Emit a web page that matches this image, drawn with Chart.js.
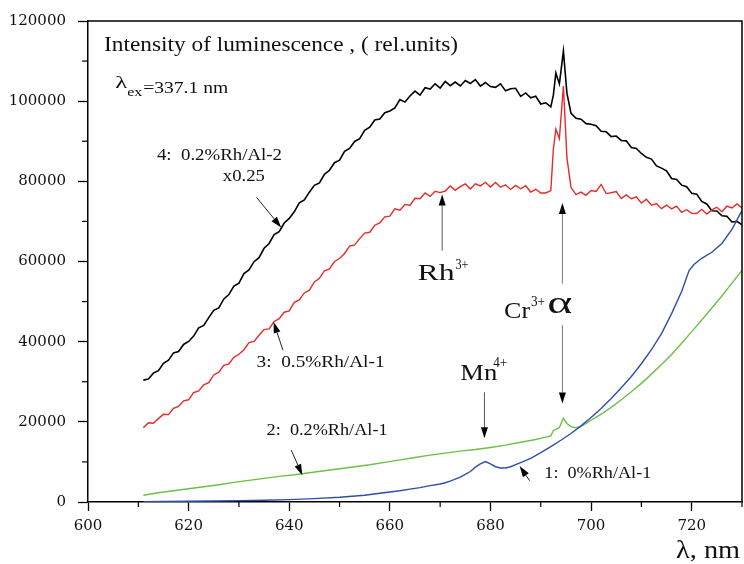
<!DOCTYPE html>
<html><head><meta charset="utf-8">
<script src="https://cdn.jsdelivr.net/npm/chart.js@4/dist/chart.umd.min.js"></script>
<style>html,body{margin:0;padding:0;background:#fff}canvas{display:block}</style>
</head><body>
<canvas id="c" width="744" height="564"></canvas>
<script>
// ---------- data ----------
const xTicks = [600, 620, 640, 660, 680, 700, 720];
const yTicks = [0, 20000, 40000, 60000, 80000, 100000, 120000];

// wavelengths (nm) for curves 3 and 4
const wlBR = [611,612,613,614,615,616,617,618,619,620,621,622,623,624,625,626,627,628,629,630,
631,632,633,634,635,636,637,638,639,640,641,642,643,644,645,646,647,648,649,650,
651,652,653,654,655,656,657,658,659,660,661,662,663,664,665,666,667,668,669,670,
671,672,673,674,675,676,677,678,679,680,681,682,683,684,685,686,687,688,689,690,
691,692,692.5,693,693.7,694.5,695.2,696,697,698,699,700,
701,702,703,704,705,706,707,708,709,710,711,712,713,714,715,716,717,718,719,720,
721,722,723,724,725,726,727,728,729,730];

// 4: 0.2%Rh/Al-2 x0.25 (black)
const s4 = [30400,30700,32150,32750,34600,35400,37200,37550,39300,40050,
41400,43450,44050,46000,47800,48400,50650,51750,53850,54600,
57000,57900,59950,60950,63300,64500,66700,67450,69600,70750,
72400,74650,75350,77300,79000,79600,81750,82750,84650,85300,
87500,88200,89950,90650,92700,93500,95300,95550,97100,97550,
98340,100410,99770,101280,102520,101500,103350,103030,104330,103280,
104920,103860,104770,103790,105140,104420,105400,103770,104660,103650,
103440,104310,102570,103080,103220,101200,102050,100830,101230,99280,
99600,98600,101500,107000,104300,112500,102000,97000,95750,95500,94400,94250,
93900,92500,92350,91150,91300,90200,90100,88450,88200,86950,
86000,85550,83850,83300,82600,80700,80450,79050,78650,77000,
76800,75000,74350,72650,72600,71400,71300,69850,70000,69150];

// 3: 0.5%Rh/Al-1 (red)
const s3 = [18500,19750,19650,20800,21900,21800,23350,23850,25250,25500,
27300,27700,29250,29750,31700,32400,34100,34450,36100,36850,
38000,39750,40050,41600,43000,43200,45050,45750,47350,47700,
49800,50400,52150,52850,54900,55800,57700,58150,60000,60750,
62000,63850,64150,65700,67100,67300,69050,69650,71150,71300,
73140,72820,74240,73980,75780,75640,77100,76240,77520,77200,
77580,78820,77740,78660,79340,78100,79400,78860,79760,78560,
79740,78520,79140,77980,78980,78140,78900,77340,78020,77100,
77100,77700,88000,93000,90600,103800,85900,78500,76700,77300,76500,77700,
77480,79220,76940,77160,77440,75700,76600,75660,76160,74560,
75540,74020,74440,73180,74080,73140,73800,72240,72920,72000,
71980,73020,71840,72860,73540,72400,73800,73360,74360,73360];

// 2: 0.2%Rh/Al-1 (green)
const wlG = [611,614,617,620,623,626,629,632,635,638,641,644,647,650,653,656,659,662,665,668,671,674,677,680,683,686,689,691,692,692.5,693,693.7,694.5,695.2,696,697,698,699,700,702,704,706,708,710,712,714,716,718,720,722,724,726,728,730];
const s2 = [1700,2300,2800,3300,3800,4300,4900,5400,5900,6400,6800,7300,7800,8300,8800,9300,9900,10500,11100,11700,12200,12700,13100,13600,14200,14900,15600,16200,16500,17800,18100,18600,20900,19600,18800,18500,18900,19600,20400,21900,23600,25500,27500,29600,31900,34300,36800,39600,42500,45400,48400,51400,54600,57800];

// 1: 0%Rh/Al-1 (blue)
const wlB = [611,615,620,625,630,635,640,645,650,655,658,660,662,664,666,668,670,671,672,673,674,675,676,677,678,679,680,681,682,683,684,685,686,688,690,692,694,696,698,700,702,704,706,708,710,712,714,716,718,719.5,720.5,722,724,726,728,730];
const s1 = [100,150,200,250,350,450,600,850,1200,1700,2200,2500,2800,3200,3600,4100,4500,4800,5200,5700,6200,6900,7600,8700,9500,10100,9500,8800,8500,8500,8800,9300,9800,10900,12300,13800,15400,17100,19000,21100,23300,25800,28500,31300,34500,38000,42000,47000,52500,57800,59300,60800,62300,64500,68000,72700];

const pts = (xs, ys) => xs.map((v, i) => ({x: v, y: ys[i]}));

// ---------- annotations (data coordinates) ----------
const SERIF = '"Liberation Serif", "Times New Roman", serif';
const texts = [
  {s: 'Intensity of luminescence , ( rel.units)', x: 603.2, y: 112500, size: 20, w: 354},
  {s: '4:  0.2%Rh/Al-2', x: 613.7, y: 85200, size: 16, w: 125},
  {s: 'x0.25', x: 626.8, y: 80200, size: 16, w: 42},
  {s: '3:  0.5%Rh/Al-1', x: 633.5, y: 33700, size: 16, w: 128},
  {s: '2:  0.2%Rh/Al-1', x: 635.5, y: 16700, size: 16, w: 121},
  {s: '1:  0%Rh/Al-1', x: 690.7, y: 5900, size: 16, w: 107}
];
const arrows = [
  [633.5, 76000, 638.4, 68500, '#222'],
  [638.75, 37850, 636.9, 44900, '#222'],
  [640.4, 12950, 642.6, 6700, '#222'],
  [687.8, 5300, 685.8, 8960, '#222'],
  [670.4, 62700, 670.4, 76700, '#555'],
  [678.8, 27400, 678.8, 15900, '#555'],
  [694.3, 54500, 694.3, 74600, '#777'],
  [694.3, 44100, 694.3, 24600, '#777']
];

function stretchText(ctx, s, px, py, size, w) {
  ctx.font = size + 'px ' + SERIF;
  const m = ctx.measureText(s).width;
  const k = w ? w / m : 1;
  ctx.save();
  ctx.translate(px, py);
  ctx.scale(k, 1);
  ctx.fillText(s, 0, 0);
  ctx.restore();
  return m * k;
}

const annot = {
  id: 'annot',
  afterDraw(chart) {
    const {ctx, chartArea: ca} = chart;
    const X = chart.scales.x, Y = chart.scales.y;
    const px = v => X.getPixelForValue(v), py = v => Y.getPixelForValue(v);
    ctx.save();
    ctx.strokeStyle = '#000';
    ctx.lineWidth = 1.5;
    ctx.beginPath();
    ctx.moveTo(ca.left, ca.top); ctx.lineTo(ca.right, ca.top); ctx.lineTo(ca.right, ca.bottom);
    ctx.stroke();
    // minor ticks
    ctx.lineWidth = 1.2;
    for (let v = 610; v <= 730; v += 20) {
      const x = px(v);
      ctx.beginPath(); ctx.moveTo(x, ca.bottom); ctx.lineTo(x, ca.bottom + 5); ctx.stroke();
    }
    for (let v = 10000; v < 120000; v += 20000) {
      const y = py(v);
      ctx.beginPath(); ctx.moveTo(ca.left - 6, y); ctx.lineTo(ca.left, y); ctx.stroke();
    }
    // texts
    ctx.fillStyle = '#111';
    ctx.textBaseline = 'alphabetic';
    ctx.textAlign = 'left';
    texts.forEach(t => stretchText(ctx, t.s, px(t.x), py(t.y), t.size, t.w));
    // lambda_ex
    let x0 = px(605.4), y0 = py(103300);
    stretchText(ctx, 'λ', x0, y0, 17, 12);
    stretchText(ctx, 'ex', x0 + 12, y0 + 8, 13, 15);
    stretchText(ctx, '=337.1 nm', x0 + 28, y0 + 5.5, 16, 85);
    // Rh3+
    x0 = px(665.5); y0 = py(55300);
    let w = stretchText(ctx, 'Rh', x0, y0, 23, 37);
    stretchText(ctx, '3+', x0 + w + 1, y0 - 11, 14, 13);
    // Mn4+
    x0 = px(674); y0 = py(30400);
    w = stretchText(ctx, 'Mn', x0, y0, 23, 37);
    stretchText(ctx, '4+', x0 + w - 4, y0 - 13, 14, 14);
    // Cr3+ alpha
    x0 = px(682.7); y0 = py(45800);
    w = stretchText(ctx, 'Cr', x0, y0, 23, 26);
    stretchText(ctx, '3+', x0 + w + 1, y0 - 12, 14, 14);
    stretchText(ctx, 'α', px(691.3), py(47100), 32, 25);
    // axis title
    stretchText(ctx, 'λ, nm', px(716.9), py(-13900), 26, 64);
    // arrows
    arrows.forEach(a => {
      const x1 = px(a[0]), y1 = py(a[1]), x2 = px(a[2]), y2 = py(a[3]);
      const ang = Math.atan2(y2 - y1, x2 - x1);
      const L = 11, H = 3.5;
      ctx.strokeStyle = a[4]; ctx.lineWidth = 1;
      ctx.beginPath(); ctx.moveTo(x1, y1);
      ctx.lineTo(x2 - L * Math.cos(ang), y2 - L * Math.sin(ang)); ctx.stroke();
      ctx.fillStyle = '#000';
      ctx.beginPath();
      ctx.moveTo(x2, y2);
      ctx.lineTo(x2 - L * Math.cos(ang) + H * Math.sin(ang), y2 - L * Math.sin(ang) - H * Math.cos(ang));
      ctx.lineTo(x2 - L * Math.cos(ang) - H * Math.sin(ang), y2 - L * Math.sin(ang) + H * Math.cos(ang));
      ctx.closePath(); ctx.fill();
    });
    ctx.restore();
  }
};

const line = (data, color, w) => ({data, borderColor: color, borderWidth: w, pointRadius: 0, fill: false, tension: 0});

new Chart(document.getElementById('c'), {
  type: 'line',
  data: {
    datasets: [
      line(pts(wlB, s1), '#2f4fa5', 1.4),
      line(pts(wlG, s2), '#6cbf45', 1.4),
      line(pts(wlBR, s3), '#e42a2a', 1.4),
      line(pts(wlBR, s4), '#000000', 1.6)
    ]
  },
  options: {
    responsive: false, animation: false, devicePixelRatio: 1,
    layout: {padding: {top: 20, right: 2, left: 0, bottom: 0}},
    plugins: {legend: {display: false}, tooltip: {enabled: false}},
    scales: {
      x: {
        type: 'linear', min: 600, max: 730,
        afterBuildTicks: s => { s.ticks = xTicks.map(v => ({value: v})); },
        afterFit: s => { s.height = 62; },
        ticks: {color: '#111', font: {family: '"DejaVu Serif", serif', size: 15}, padding: 6, maxRotation: 0, callback: v => String(v)},
        grid: {drawOnChartArea: false, drawTicks: true, tickLength: 9, tickColor: '#000', tickWidth: 1.3},
        border: {display: true, color: '#000', width: 1.5}
      },
      y: {
        type: 'linear', min: 0, max: 120000,
        afterBuildTicks: s => { s.ticks = yTicks.map(v => ({value: v})); },
        afterFit: s => { s.width = 88; },
        ticks: {color: '#111', font: {family: '"DejaVu Serif", serif', size: 15}, padding: 12, callback: v => String(v)},
        grid: {drawOnChartArea: false, drawTicks: true, tickLength: 10, tickColor: '#000', tickWidth: 1.3},
        border: {display: true, color: '#000', width: 1.5}
      }
    }
  },
  plugins: [annot]
});
</script>
</body></html>
